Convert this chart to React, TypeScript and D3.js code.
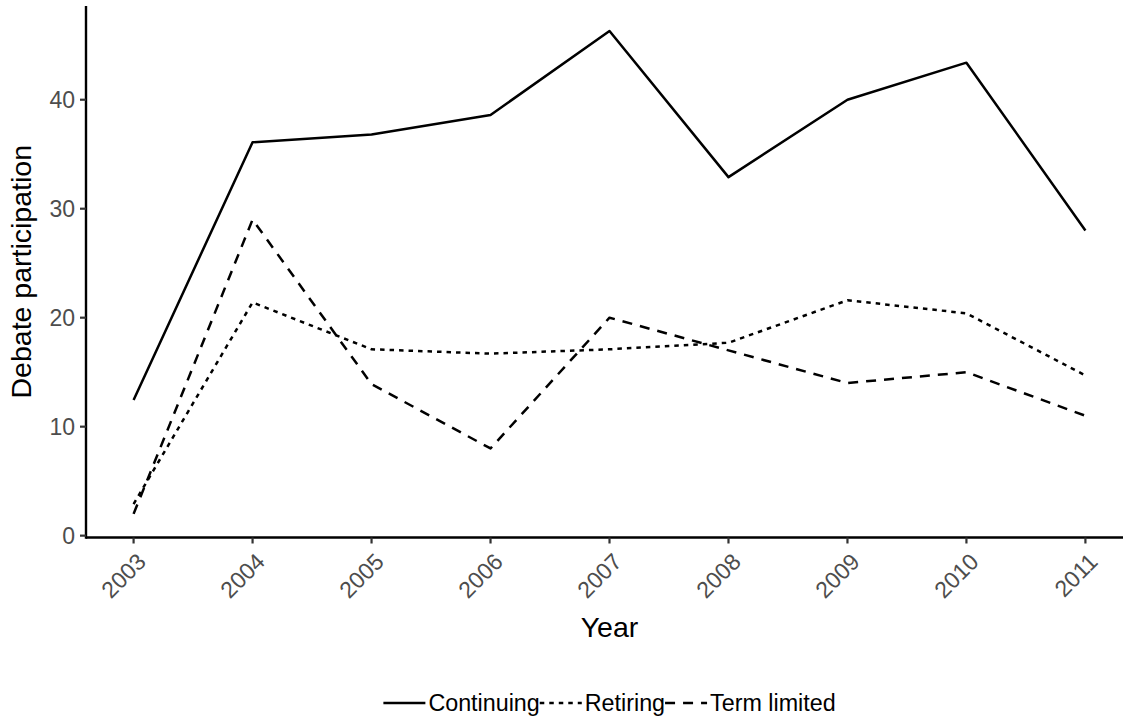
import React, { useEffect, useRef } from "react";
import * as d3 from "d3";

const years = [2003, 2004, 2005, 2006, 2007, 2008, 2009, 2010, 2011];
const continuing = [12.45, 36.1, 36.8, 38.6, 46.3, 32.9, 40.0, 43.4, 28.0];
const retiring = [2.9, 21.4, 17.1, 16.7, 17.1, 17.7, 21.6, 20.4, 14.7];
const termLimited = [2.0, 29.0, 13.9, 8.0, 20.0, 17.0, 14.0, 15.0, 11.0];
const yTicks = [0, 10, 20, 30, 40];
const seriesNames = ["Continuing", "Retiring", "Term limited"];

const W = 1123;
const H = 724;
const FONT = "'Liberation Sans', Arial, Helvetica, sans-serif";
const TICK_FS = 23;
const TITLE_FS = 28.5;
const LEGEND_FS = 23.3;

export default function App() {
  const ref = useRef<SVGSVGElement | null>(null);

  useEffect(() => {
    document.body.style.margin = "0";
    const svg = d3.select(ref.current);
    svg.selectAll("*").remove();

    const x = d3.scaleLinear().domain([2002.6, 2011.4]).range([86, 1133]);
    const y = d3.scaleLinear().domain([-0.17, 48.6]).range([537.5, 6]);

    const series = [
      { name: seriesNames[0], values: continuing, dash: null as string | null },
      { name: seriesNames[1], values: retiring, dash: "4.5,5" },
      { name: seriesNames[2], values: termLimited, dash: "10,8" },
    ];

    const line = d3
      .line<number>()
      .x((_, i) => x(years[i]))
      .y((d) => y(d));

    const g = svg.append("g");

    series.forEach((s) => {
      const p = g
        .append("path")
        .attr("d", line(s.values) as string)
        .attr("fill", "none")
        .attr("stroke", "#000")
        .attr("stroke-width", 2.5)
        .attr("stroke-linejoin", "round");
      if (s.dash) p.attr("stroke-dasharray", s.dash);
    });

    const [x0, x1] = x.range();
    const [yb, yt] = y.range();
    g.append("line")
      .attr("x1", x0).attr("x2", x1).attr("y1", yb).attr("y2", yb)
      .attr("stroke", "#000").attr("stroke-width", 2.4);
    g.append("line")
      .attr("x1", x0).attr("x2", x0).attr("y1", yt).attr("y2", yb + 1.2)
      .attr("stroke", "#000").attr("stroke-width", 2.4);

    yTicks.forEach((t) => {
      g.append("line")
        .attr("x1", x0 - 6).attr("x2", x0).attr("y1", y(t)).attr("y2", y(t))
        .attr("stroke", "#333").attr("stroke-width", 2.2);
      g.append("text")
        .attr("x", x0 - 11)
        .attr("y", y(t))
        .attr("dy", "0.36em")
        .attr("text-anchor", "end")
        .attr("font-family", FONT)
        .attr("font-size", TICK_FS)
        .attr("fill", "#4D4D4D")
        .text(String(t));
    });

    years.forEach((yr) => {
      g.append("line")
        .attr("x1", x(yr)).attr("x2", x(yr)).attr("y1", yb).attr("y2", yb + 6)
        .attr("stroke", "#333").attr("stroke-width", 2.2);
      g.append("text")
        .attr("transform", `translate(${x(yr) + 2},${yb + 14}) rotate(-45)`)
        .attr("dy", "0.72em")
        .attr("text-anchor", "end")
        .attr("font-family", FONT)
        .attr("font-size", TICK_FS)
        .attr("fill", "#4D4D4D")
        .text(String(yr));
    });

    g.append("text")
      .attr("x", (x0 + x1) / 2)
      .attr("y", 637)
      .attr("text-anchor", "middle")
      .attr("font-family", FONT)
      .attr("font-size", TITLE_FS)
      .attr("fill", "#000")
      .text("Year");
    g.append("text")
      .attr("transform", `translate(31,${(yt + yb) / 2}) rotate(-90)`)
      .attr("text-anchor", "middle")
      .attr("font-family", FONT)
      .attr("font-size", TITLE_FS)
      .attr("fill", "#000")
      .text("Debate participation");

    const keyW = 42;
    const gap = 3;
    const ly = 703;
    const lg = svg.append("g");
    const widths: number[] = [];
    const temp = lg
      .selectAll("text.tmp")
      .data(series)
      .enter()
      .append("text")
      .attr("font-family", FONT)
      .attr("font-size", LEGEND_FS)
      .text((d) => d.name);
    temp.each(function () {
      widths.push((this as SVGTextElement).getComputedTextLength());
    });
    temp.remove();
    const total = series.length * (keyW + gap) + d3.sum(widths);
    let cx = (x0 + x1) / 2 - total / 2;
    series.forEach((s, i) => {
      const l = lg
        .append("line")
        .attr("x1", cx).attr("x2", cx + keyW).attr("y1", ly).attr("y2", ly)
        .attr("stroke", "#000").attr("stroke-width", 2.5);
      if (s.dash) l.attr("stroke-dasharray", s.dash);
      cx += keyW + gap;
      lg.append("text")
        .attr("x", cx)
        .attr("y", ly)
        .attr("dy", "0.36em")
        .attr("font-family", FONT)
        .attr("font-size", LEGEND_FS)
        .attr("fill", "#000")
        .text(s.name);
      cx += widths[i];
    });
  }, []);

  return (
    <svg
      ref={ref}
      width={W}
      height={H}
      style={{ display: "block", background: "#fff" }}
    />
  );
}
